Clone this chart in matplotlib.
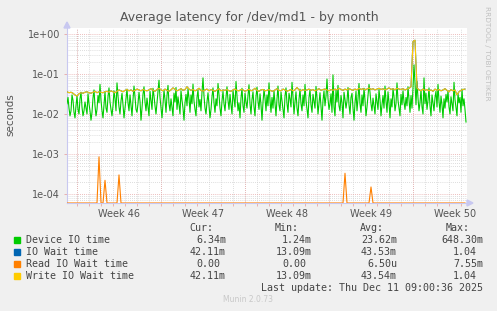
import numpy as np
import matplotlib
matplotlib.use("Agg")
import matplotlib.pyplot as plt
from matplotlib.patches import Rectangle, Polygon

# ---------------- data (milliseconds) ----------------
# Device IO time: 2-hour samples
device_io_ms = [
    18, 26, 14, 9, 12, 30, 22, 11, 8, 16, 28, 13, 10, 24, 35, 15, 9, 12, 20, 14,
    10, 32, 18, 12, 7, 11, 25, 40, 16, 9, 13, 29, 19, 55, 22, 12, 8, 17, 36, 14,
    11, 27, 45, 20, 13, 9, 16, 38, 24, 12, 60, 28, 15, 10, 21, 33, 17, 8, 14, 26,
    42, 19, 12, 30, 16, 9, 23, 50, 27, 13, 11, 18, 35, 21, 7, 14, 31, 48, 20, 12,
    25, 15, 9, 37, 22, 13, 44, 28, 16, 10, 19, 34, 70, 26, 14, 8, 17, 39, 23, 11,
    29, 52, 18, 12, 24, 15, 9, 33, 20, 46, 13, 27, 17, 10, 38, 22, 14, 7, 19, 31,
    16, 43, 25, 11, 30, 18, 56, 21, 13, 9, 26, 40, 15, 23, 12, 35, 80, 28, 14, 10,
    20, 34, 17, 8, 13, 27, 45, 19, 11, 24, 16, 58, 30, 14, 9, 21, 37, 18, 12, 26,
    48, 22, 13, 31, 17, 10, 39, 24, 15, 65, 28, 12, 19, 8, 25, 44, 16, 11, 33, 20,
    14, 29, 54, 18, 10, 23, 36, 15, 9, 27, 47, 21, 13, 32, 17, 7, 20, 41, 25, 12,
    30, 16, 60, 22, 11, 26, 14, 38, 19, 9, 24, 50, 17, 12, 35, 21, 13, 8, 28, 45,
    18, 11, 33, 24, 15, 62, 27, 10, 20, 36, 14, 9, 23, 42, 18, 12, 30, 16, 55, 22,
    13, 8, 26, 40, 17, 11, 31, 21, 14, 49, 25, 10, 19, 34, 15, 7, 22, 38, 16, 28,
    75, 24, 13, 18, 32, 11, 95, 15, 9, 40, 20, 52, 16, 12, 29, 19, 8, 35, 23, 14,
    21, 46, 17, 10, 26, 33, 14, 7, 19, 37, 12, 24, 58, 18, 11, 30, 16, 44, 22, 9,
    15, 28, 55, 35, 18, 12, 25, 16, 10, 32, 20, 13, 41, 23, 9, 17, 29, 14, 50, 21,
    11, 36, 19, 8, 24, 15, 43, 27, 12, 18, 60, 22, 14, 9, 31, 17, 38, 20, 13, 26,
    16, 48, 23, 11, 29, 14, 45, 170, 60, 17, 65, 25, 12, 19, 40, 15, 10, 80, 18, 33,
    13, 22, 45, 16, 9, 30, 19, 12, 26, 37, 15, 55, 21, 11, 28, 17, 8, 24, 14, 31,
    20, 38, 15, 10, 27, 18, 12, 62, 23, 14, 9, 33, 19, 26, 11, 42, 16, 24, 13, 6.3,
]
# Write IO wait / IO wait / Read IO wait: 4-hour samples
write_wait_ms = [
    36, 34, 35, 33, 30, 28, 32, 34, 33, 35, 36, 34, 33, 35, 37, 34, 36, 35, 34, 36,
    37, 35, 38, 36, 34, 37, 40, 38, 36, 39, 41, 38, 40, 37, 39, 42, 40, 38, 41, 39,
    38, 40, 43, 39, 37, 41, 44, 40, 38, 42, 39, 37, 40, 45, 41, 38, 40, 43, 39, 41,
    48, 42, 39, 41, 38, 40, 44, 39, 37, 40, 42, 38, 41, 39, 37, 40, 43, 38, 40, 39,
    41, 38, 37, 40, 42, 39, 38, 41, 40, 37, 39, 42, 38, 40, 44, 39, 37, 40, 41, 38,
    39, 41, 38, 37, 40, 43, 39, 38, 42, 40, 37, 39, 41, 38, 40, 46, 40, 38, 41, 39,
    40, 42, 39, 41, 38, 40, 43, 39, 41, 42, 40, 38, 41, 39, 42, 40, 44, 41, 39, 42,
    40, 43, 41, 39, 42, 40, 44, 41, 43, 40, 42, 45, 41, 43, 40, 42, 44, 41, 43, 40,
    42, 45, 41, 43, 40, 44, 42, 41, 43, 40, 42, 44, 48, 650, 700, 45, 40, 38, 42, 39,
    41, 38, 40, 37, 42, 39, 41, 38, 40, 43, 39, 36, 41, 38, 40, 30, 36, 39, 41, 42,
]
io_wait_ms = list(write_wait_ms)
read_wait_ms = [
    0, 0, 0, 0, 0, 0, 0, 0, 0, 0, 0, 0, 0, 0, 0, 0, 0.85, 0, 0, 0.22,
    0, 0, 0, 0, 0, 0, 0.30, 0, 0, 0, 0, 0, 0, 0, 0, 0, 0, 0, 0, 0,
    0, 0, 0, 0, 0, 0, 0, 0, 0, 0, 0, 0, 0, 0, 0, 0, 0, 0, 0, 0,
    0, 0, 0, 0, 0, 0, 0, 0, 0, 0, 0, 0, 0, 0, 0, 0, 0, 0, 0, 0,
    0, 0, 0, 0, 0, 0, 0, 0, 0, 0, 0, 0, 0, 0, 0, 0, 0, 0, 0, 0,
    0, 0, 0, 0, 0, 0, 0, 0, 0, 0, 0, 0, 0, 0, 0, 0, 0, 0, 0, 0,
    0, 0, 0, 0, 0, 0, 0, 0, 0, 0, 0, 0, 0, 0, 0, 0, 0, 0, 0, 0.33,
    0, 0, 0, 0, 0, 0, 0, 0, 0, 0, 0, 0, 0.15, 0, 0, 0, 0, 0, 0, 0,
    0, 0, 0, 0, 0, 0, 0, 0, 0, 0, 0, 0, 0, 0, 0, 0, 0, 0, 0, 0,
    0, 0, 0, 0, 0, 0, 0, 0, 0, 0, 0, 0, 0, 0, 0, 0, 0, 0, 0, 0,
]

series_names = ["Device IO time", "IO Wait time", "Read IO Wait time", "Write IO Wait time"]
series_colors = ["#00CC00", "#0066B3", "#FF8000", "#FFCC00"]
cur_vals = ["6.34m", "42.11m", "0.00", "42.11m"]
min_vals = ["1.24m", "13.09m", "0.00", "13.09m"]
avg_vals = ["23.62m", "43.53m", "6.50u", "43.54m"]
max_vals = ["648.30m", "1.04", "7.55m", "1.04"]
week_labels = ["Week 46", "Week 47", "Week 48", "Week 49", "Week 50"]
ytick_vals = [1e0, 1e-1, 1e-2, 1e-3, 1e-4]
ytick_labels = ["1e+00", "1e-01", "1e-02", "1e-03", "1e-04"]

fast_step_days = 2.0 / 24.0
slow_step_days = 4.0 / 24.0
span_days = 400.0 / 12.0
first_week_start = 10.0 / 12.0

# ---------------- figure ----------------
W, H = 497, 311
fig = plt.figure(figsize=(W / 100, H / 100), dpi=100, facecolor="#F0F0F0")
def fx(px): return px / W
def fy(py): return 1 - py / H

ax = fig.add_axes([fx(67), fy(203), fx(467) - fx(67), fy(28) - fy(203)])
ax.set_facecolor("white")
ax.set_yscale("log")
ymin, ymax = 10 ** -4.225, 10 ** 0.15
ax.set_ylim(ymin, ymax)
ax.set_xlim(0, span_days)

# grid
red = "#E7A7A7"
gray = "#D2D2D2"
for d in np.arange(first_week_start, span_days, 1.0):
    ax.axvline(d, color=gray, lw=0.6, ls=(0, (1, 1.5)), zorder=0)
for k in range(len(week_labels)):
    ax.axvline(first_week_start + 7 * k, color=red, lw=0.6, ls=(0, (1, 1.5)), zorder=0.5)
for dec in range(-5, 1):
    for m in range(2, 10):
        v = m * 10.0 ** dec
        if ymin < v < ymax:
            ax.axhline(v, color=gray, lw=0.6, ls=(0, (1, 1.5)), zorder=0)
for v in ytick_vals:
    ax.axhline(v, color=red, lw=0.6, ls=(0, (1, 1.5)), zorder=0.5)

data = [(device_io_ms, fast_step_days), (io_wait_ms, slow_step_days),
        (read_wait_ms, slow_step_days), (write_wait_ms, slow_step_days)]
for (vals, step), col in zip(data, series_colors):
    t = np.arange(len(vals)) * step
    y = np.clip(np.asarray(vals, float) / 1000.0, ymin, None)
    ax.plot(t, y, color=col, lw=0.8, zorder=3, clip_on=True)

# ticks
ax.set_yticks(ytick_vals)
ax.set_yticklabels(ytick_labels)
ax.yaxis.set_minor_locator(matplotlib.ticker.NullLocator())
ax.set_xticks([first_week_start + 7 * k + 3.5 for k in range(len(week_labels))])
ax.set_xticklabels(week_labels)
ax.tick_params(axis="x", length=0, pad=4, labelsize=7, colors="#555555")
ax.tick_params(axis="y", length=2, width=0.6, color=red, pad=3, labelsize=7, labelcolor="#555555")
ax.set_xticks(np.arange(first_week_start, span_days, 1.0), minor=True)
ax.tick_params(axis="x", which="minor", length=2, width=0.6, color=red)

for s in ["top", "right"]:
    ax.spines[s].set_visible(False)
ax.spines["left"].set_color("#C8C8F0")
ax.spines["bottom"].set_color("#C8C8F0")
ax.spines["left"].set_linewidth(0.8)
ax.spines["bottom"].set_linewidth(0.8)

# axis arrows
fig.patches.append(Polygon([[fx(64), fy(28)], [fx(70), fy(28)], [fx(67), fy(22)]],
                           closed=True, transform=fig.transFigure, color="#C8C8F0"))
fig.patches.append(Polygon([[fx(467), fy(200)], [fx(467), fy(206)], [fx(473), fy(203)]],
                           closed=True, transform=fig.transFigure, color="#C8C8F0"))

fig.text(fx(10), fy(115), "seconds", rotation=90, ha="center", va="center",
         fontsize=7.5, color="#555555")

fig.text(fx(249), fy(17), "Average latency for /dev/md1 - by month", ha="center", va="center",
         fontsize=9, color="#555555")
fig.text(fx(487), fy(53), "RRDTOOL / TOBI OETIKER", rotation=270, ha="center", va="center",
         fontsize=5.3, color="#C0C0C0")

# legend
mono = "DejaVu Sans Mono"
fs = 7.2
tc = "#444444"
col_ends = [226, 312, 397, 483]
headers = ["Cur:", "Min:", "Avg:", "Max:"]
for ce, h in zip(col_ends, headers):
    fig.text(fx(ce - 13), fy(228), h, ha="right", va="center", family=mono, fontsize=fs, color=tc)
row_y = [240, 252, 264, 276]
for i, name in enumerate(series_names):
    yy = row_y[i]
    fig.patches.append(Rectangle((fx(14), fy(yy + 3)), fx(6), fy(0) - fy(6),
                                 transform=fig.transFigure, color=series_colors[i]))
    fig.text(fx(26), fy(yy), name, ha="left", va="center", family=mono, fontsize=fs, color=tc)
    for ce, vals in zip(col_ends, [cur_vals, min_vals, avg_vals, max_vals]):
        s = vals[i]
        end = ce if s[-1].isalpha() else ce - 6
        fig.text(fx(end), fy(yy), s, ha="right", va="center", family=mono, fontsize=fs, color=tc)

fig.text(fx(483), fy(288), "Last update: Thu Dec 11 09:00:36 2025", ha="right", va="center",
         family=mono, fontsize=fs, color=tc)
fig.text(fx(248), fy(300), "Munin 2.0.73", ha="center", va="center", fontsize=5.5, color="#C8C8C8")

fig.savefig("out.png", dpi=100, facecolor=fig.get_facecolor())
